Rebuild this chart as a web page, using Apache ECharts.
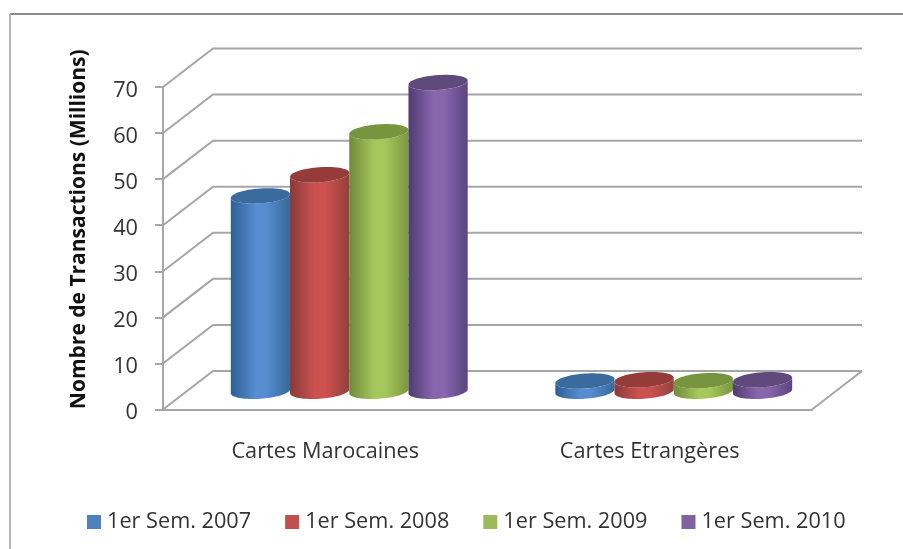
<!DOCTYPE html>
<html><head><meta charset="utf-8">
<style>html,body{margin:0;padding:0;background:#fff}#c{width:903px;height:549px;filter:blur(0.4px)}</style>
<script src="https://cdn.jsdelivr.net/npm/echarts@6/dist/echarts.min.js"></script>
</head><body><div id="c"></div>
<script>
const categories = ['Cartes Marocaines', 'Cartes Etrangères'];
const seriesNames = ['1er Sem. 2007', '1er Sem. 2008', '1er Sem. 2009', '1er Sem. 2010'];
const sem2007 = [42.4, 2.2];
const sem2008 = [47.0, 2.5];
const sem2009 = [56.3, 2.3];
const sem2010 = [67.0, 2.5];
const gridTicks = [0, 10, 20, 30, 40, 50, 60, 70];
const allValues = [sem2007, sem2008, sem2009, sem2010];

const palette = [
  {edgeL:'#2f5f93', mid:'#558dd0', edgeR:'#386899', top:'#3b6a9f', legend:'#4f81bd'},
  {edgeL:'#893a38', mid:'#cc5250', edgeR:'#93403e', top:'#953b39', legend:'#c0504d'},
  {edgeL:'#6f8a3a', mid:'#a6c75c', edgeR:'#7a963f', top:'#77943f', legend:'#9bbb59'},
  {edgeL:'#4f3c72', mid:'#8866ad', edgeR:'#5a4580', top:'#604a7b', legend:'#8064a2'}
];
const DX = 50, DY = -38.5;      // depth of the 3D box
const RY = 7.5, TILT = 2;       // ellipse half-height and tilt

function ellipsePts(cx, cy, r, from, to, n) {
  const pts = [];
  for (let i = 0; i <= n; i++) {
    const a = from + (to - from) * i / n;
    const c = Math.cos(a), s = Math.sin(a);
    pts.push([cx + r * c, cy + RY * s - TILT * c]);
  }
  return pts;
}

function cylinder(si) {
  return function (params, api) {
    const idx = api.value(0), val = api.value(1);
    const top = api.coord([idx, val]);
    const base = api.coord([idx, 0]);
    const band = api.size([1, 0])[0];
    const w = band * 0.1825;
    const r = w / 2;
    const cx = top[0] + DX / 2 - 1 + (si - 1.5) * w;
    const yTop = top[1] + DY / 2 + 1, yBase = base[1] + DY / 2 + 1;
    const c = palette[si];
    const body = ellipsePts(cx, yBase, r, 0, Math.PI, 40)
      .concat(ellipsePts(cx, yTop, r, Math.PI, 0, 40));
    const fill = new echarts.graphic.LinearGradient(0, 0, 1, 0, [
      {offset:0, color:c.edgeL},{offset:0.42, color:c.mid},{offset:0.6, color:c.mid},{offset:1, color:c.edgeR}
    ]);
    return {type:'group', children:[
      {type:'polygon', shape:{points:body}, style:{fill:fill}},
      {type:'polygon', shape:{points:ellipsePts(cx, yTop, r, 0, Math.PI*2, 60)}, style:{fill:c.top}}
    ]};
  };
}

function wallLine(params, api) {
  const v = api.value(0);
  const p = api.coord([0, v]);
  const g = params.coordSys;
  const x0 = g.x, xr = g.x + g.width;
  const y = p[1];
  const stroke = {stroke:'#a6a6a6', lineWidth:2, fill:null};
  const pts = [[x0, y], [x0 + DX, y + DY], [xr + DX, y + DY]];
  const kids = [{type:'polyline', shape:{points:pts}, style:stroke}];
  if (v === 0) kids.push({type:'polyline', shape:{points:[[xr, y], [xr + DX, y + DY]]}, style:stroke});
  return {type:'group', children:kids};
}

const series = [{
  type:'custom', name:'wall', coordinateSystem:'cartesian2d', renderItem:wallLine, clip:false, silent:true,
  encode:{y:0}, data:gridTicks.map(v => [v]), z:1
}].concat(seriesNames.map((n, si) => ({
  type:'custom', name:n, coordinateSystem:'cartesian2d', renderItem:cylinder(si), clip:false,
  itemStyle:{color:palette[si].legend}, encode:{x:0, y:1},
  data:allValues[si].map((v, i) => [i, v]), z:3 + si
})));

const chart = echarts.init(document.getElementById('c'), null, {renderer:'canvas'});
chart.setOption({
  animation:false,
  backgroundColor:'#fff',
  textStyle:{fontFamily:'Open Sans'},
  graphic:[
    {type:'line', shape:{x1:10, y1:14, x2:903, y2:14}, z:-1, style:{stroke:'#8a8a8a', lineWidth:2}},
    {type:'line', shape:{x1:10, y1:14, x2:10, y2:549}, z:-1, style:{stroke:'#b4b4b4', lineWidth:2}}
  ],
  grid:{left:163, top:87, width:649, height:322.5, containLabel:false},
  xAxis:{type:'category', data:categories, boundaryGap:true,
    axisLine:{show:true, lineStyle:{color:'#a6a6a6', width:2}},
    axisTick:{show:false},
    axisLabel:{fontFamily:'Open Sans', fontSize:21.7, color:'#333', margin:31}},
  yAxis:{type:'value', min:0, max:70, interval:10,
    name:'Nombre de Transactions (Millions)', nameLocation:'middle', nameRotate:90, nameGap:73,
    nameTextStyle:{fontFamily:'Open Sans', fontWeight:'bold', fontSize:21, color:'#111', padding:[0,0,0,38]},
    axisLine:{show:true, lineStyle:{color:'#a6a6a6', width:2}},
    axisTick:{show:true, length:8, lineStyle:{color:'#a6a6a6', width:2}},
    splitLine:{show:false},
    axisLabel:{margin:25, formatter:'{d|{value}}',
      rich:{d:{fontFamily:'Open Sans', fontSize:21.7, color:'#333', padding:[7,0,0,0]}}}},
  legend:{data:seriesNames, left:82, top:506, itemWidth:14, itemHeight:14, itemGap:34, icon:'rect',
    textStyle:{fontFamily:'Open Sans', fontSize:21.7, color:'#333', padding:[0,0,0,1]}},
  series:series
});
</script></body></html>
